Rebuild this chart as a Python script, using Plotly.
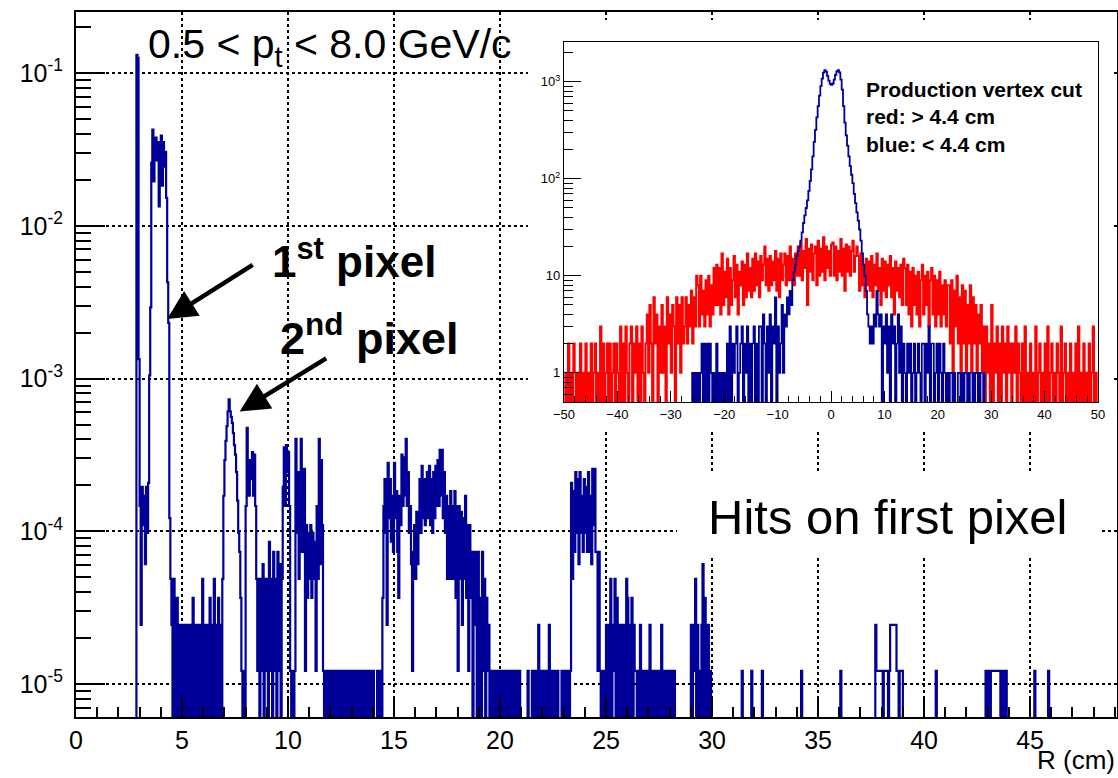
import plotly.graph_objects as go

FONT = "Liberation Sans, Arial, Helvetica, sans-serif"
W, H = 1118, 778

# ---------------- main histogram: hits vs R (cm), bin width 0.05 cm ----------------
R_BIN = 0.05
R_MAX = 49.1
COUNT_UNIT = 1.22e-5          # normalised content of one entry

layer1_start = 2.85
layer1_counts = [10800, 10300, 110, 12, 2, 16, 9, 14, 5, 16, 8, 17, 86, 240, 2130, 3500,
                 1600, 2900, 3100, 2200, 2900, 1100, 2600, 3200, 1500, 2900, 2000, 2500,
                 1250, 350, 190, 10, 4]
gap1_start = 4.50
gap1_counts = [2, 0, 4, 0, 2, 3, 0, 2, 0, 2, 1, 0, 2, 0, 2, 0, 1, 2, 0, 2, 3, 0, 2, 0,
               2, 0, 1, 2, 0, 4, 0, 2, 0, 2, 1, 0, 3, 0, 2, 0, 4, 0, 2, 0, 3, 0, 2, 0]
layer2_start = 6.90
layer2_counts = [4, 14, 24, 32, 40, 50, 60, 50, 46, 42, 36, 30, 26, 20, 13, 8, 6, 3, 1, 0, 1, 0]
peak8_start = 8.00
peak8_counts = [12, 39, 20, 14, 24, 18, 27, 14, 26, 12, 4]
block9_start = 8.55
block9_counts = [1, 4, 0, 4, 1, 5, 0, 4, 1, 4, 0, 7, 1, 4, 0, 6, 1, 4, 0, 6, 1, 5, 0, 4]
peak10_start = 9.75
peak10_counts = [16, 29, 12, 30, 20, 27, 12, 1, 0, 1, 0, 1, 33, 8, 20, 4, 15, 33, 6, 18,
                 21, 1, 9, 3, 8, 4, 9, 3, 8, 4, 7, 1, 12, 4, 33, 5, 24, 9, 1, 0]
sparse12_start = 11.75
sparse12_counts = [1, 0, 1, 1, 0, 1, 0, 1, 1, 0, 1, 0, 0, 1, 0, 1, 1, 0, 1, 0, 1, 0, 0, 1,
                   1, 0, 1, 0, 1, 0, 1, 1, 0, 0, 1, 0, 1, 0, 1, 1, 0, 1, 0, 0, 1, 1, 0, 0,
                   0, 1, 0, 0, 1, 0]
peak16_start = 14.45
peak16_counts = [3, 12, 18, 8, 2, 23, 10, 18, 7, 14,
                 6, 23, 10, 15, 6, 3, 14, 9, 26, 12,
                 25, 14, 33, 12, 20, 8, 12, 5, 1, 6,
                 9, 4, 11, 5, 10, 18, 8, 22, 10, 18,
                 9, 16, 20, 10, 22, 9, 18, 8, 20, 10,
                 22, 12, 24, 12, 28, 14, 28, 10, 20, 8,
                 14, 4, 12, 4, 15, 4, 12, 4, 15, 3,
                 12, 1, 12, 4, 11, 2, 10, 4, 14, 3,
                 9, 1, 9, 3, 6, 0, 6, 2, 6, 0,
                 6, 0, 3, 0, 6, 1, 4, 0, 3, 1,
                 2, 0, 1, 0]
sparse21_start = 19.65
sparse21_counts = [1, 0, 1, 0, 0, 1,
                   1, 0, 1, 0, 1, 0, 1, 0, 1, 1, 0, 1, 0, 1, 0, 1, 0, 1, 0, 1, 0,
                   0, 0, 0, 0, 0, 0, 1, 0, 0, 0, 1, 0,
                   1, 0, 1, 0, 2, 0, 1, 0, 1, 0, 1, 0, 1, 0, 2, 0, 1, 0, 1, 0, 1, 0, 1, 0,
                   0, 0, 1, 0, 1, 0, 1, 0, 1, 0, 1]
peak24_start = 23.35
peak24_counts = [17, 4, 15, 6, 20, 8, 18, 5, 20, 8, 14, 6, 18, 8, 16, 6, 20, 6, 14, 5,
                 21, 9, 21, 6, 6, 1, 6, 1]
tail25_start = 24.75
tail25_counts = [0, 1, 0, 0, 1,
                 2, 0, 2, 0, 4, 0, 2, 1, 4, 0, 3, 0, 2, 0, 2, 1, 0, 2, 0, 4, 3, 0, 2, 0, 3, 0, 2, 1,
                 1, 0, 1, 0, 2, 0, 1, 0, 1, 0, 1, 0, 1, 2, 0, 1, 0, 1, 0, 1, 0, 1, 0, 1, 2, 0,
                 1, 0, 1, 0, 1, 0, 1, 0, 1, 0, 1, 0]
tail29_start = 29.00
tail29_counts = [2, 0, 2, 1, 4, 0, 2, 0, 1, 0, 2, 5, 0, 3, 2, 0, 2, 0, 1, 0]
cluster38_start = 37.70
cluster38_counts = [2, 1, 1, 1, 1, 1, 1, 0, 1, 1, 1, 1, 0, 1, 2, 2, 2, 2, 2, 2, 1, 1, 0, 1, 1, 1, 0]
cluster43_start = 42.90
cluster43_counts = [1, 1, 0, 1, 0, 1, 1, 1, 1, 1, 1, 1, 1, 1, 0, 0, 1, 0, 1, 1, 0]
single_hit_R = [31.42, 31.89, 32.38, 34.22, 36.06, 40.56, 45.20, 45.90]

# ---------------- inset: z of production vertex, bin width 0.25 cm ----------------
Z_BIN = 0.25
Z_MIN, Z_MAX = -50.0, 50.0

red_seg_a = [0, 1, 0, 2, 0, 1, 0, 2, 1, 0, 1, 0, 2, 0, 1, 0, 2, 0, 1, 0, 2, 0, 1, 2, 0, 1, 0]
red_seg_b = [3, 0, 2, 0, 1, 2, 0, 2, 0, 1, 2, 0, 2, 1, 0, 3, 0]
red_seg_c = [2, 0, 3, 1, 0, 2, 3, 0, 2, 1, 3, 0, 2, 0, 3, 1, 0, 2]
red_seg_d = [4, 1, 5, 2, 0, 6, 2, 4, 0, 3, 1, 5, 1, 3, 0, 6, 2, 4, 1, 5]
red_seg_e = [3, 0, 6, 2, 5, 1, 6, 2, 3, 6, 2, 5, 3, 7, 2, 6, 3, 10]
red_seg_f = [8, 3, 10, 4, 7, 3, 9, 4, 10, 3, 8, 4, 12, 5, 13, 5]
red_seg_g = [12, 4, 17, 5, 11, 6, 15, 4, 12, 5, 9, 16, 6, 13, 4, 11, 8, 14, 5, 13, 6, 17, 7, 12, 6]
red_seg_h = [15, 7, 17, 8, 14, 6, 16, 9, 13, 20, 8, 15, 7, 16, 8, 14, 9, 18, 7, 15, 6, 17,
             9, 13, 17, 8, 16, 9, 20, 9, 15, 8, 17, 10]
red_seg_i = [20, 10, 22, 9, 18, 12, 24, 5, 19, 11, 21, 9, 17, 20, 8, 23, 10, 19, 11, 25, 9,
             20, 12, 18, 10, 21]
red_seg_j = [22, 10, 20, 9, 18, 11, 24, 10, 19, 7, 21, 11, 20, 10, 18, 23, 11, 16, 20]
red_seg_k = [16, 7, 17, 8, 13, 6, 15, 8, 14, 7, 16, 6, 13, 8, 17, 7, 12, 5, 15, 7, 14, 6,
             13, 8, 16, 6, 12, 4, 14, 7, 12, 6, 13, 5, 15]
red_seg_l = [12, 5, 13, 4, 11, 3, 12, 5, 10, 4, 11, 3, 9, 13, 4, 10, 5, 11, 3, 9, 12, 4, 10,
             3, 9, 4, 11, 3, 8, 4, 9, 3, 8]
red_seg_m = [8, 2, 9, 1, 7, 3, 10, 2, 6, 1, 8, 2, 7, 1, 5, 2, 8, 1, 6, 2, 5, 1, 4, 2, 5, 1, 3]
red_seg_n = [0, 3, 1, 2, 0, 5, 0, 2, 1, 3, 0, 2, 0, 3, 1, 2, 0, 3, 1, 2, 0, 2, 1, 3, 0, 2, 1,
             0, 2, 0, 3, 0]
red_seg_o = [1, 0, 2, 0, 1, 0, 3, 0, 1, 2, 0, 1, 0, 2, 0, 3, 0, 1, 2, 0, 1, 0, 2, 1, 0, 3, 0,
             1, 2, 0, 1, 0, 2, 0, 1, 0, 2, 0, 3, 0, 1, 0, 2, 0, 1, 0, 2, 0, 1, 3, 0, 1, 0]

blue_start = -26.0
blue_tail_l1 = [1, 0, 1, 0, 1, 0, 1, 2, 0, 2, 0, 2, 0, 2, 1, 0, 1, 0, 2, 0, 1, 0, 1, 0, 1, 0]
blue_tail_l2 = [2, 0, 3, 0, 2, 1, 2, 3, 0, 1, 2, 3, 0, 2, 1, 3, 0, 2, 0, 2, 3, 0, 2, 0, 3]
blue_tail_l3 = [3, 0, 4, 2, 0, 3, 1, 4, 0, 3, 2, 6, 0, 3, 1]
blue_peak = [2, 5, 1, 4, 3, 6, 4, 7, 5,
             9, 11, 13, 16, 18, 20, 23, 28, 35,
             42, 50, 60, 75, 95, 125, 170, 240, 320,
             430, 560, 720, 900, 1080, 1240, 1320, 1270, 1150,
             1030, 950, 930, 960, 1050, 1180, 1280, 1320, 1250,
             1050, 830, 560, 380, 280, 220, 170, 135, 110,
             90, 70, 56, 45, 37, 30, 23, 17, 13,
             10, 7, 4, 3, 2]
blue_tail_r0 = [3, 2, 4, 3, 7, 4, 3]
blue_tail_r1 = [4, 0, 3, 2, 4, 1, 3, 0, 4, 2, 3, 0, 2, 4, 1, 3, 0]
blue_tail_r2 = [2, 1, 0, 2, 1, 2, 0, 1, 2, 0, 1, 2, 1, 0, 2]
blue_tail_r3 = [2, 0, 2, 1, 3, 0, 2, 2, 0, 1, 2, 0, 2, 1, 0, 2, 1, 0]
blue_tail_r4 = [1, 0, 1, 1, 0, 1, 0, 0, 1, 1, 0, 1, 0, 1, 1, 0, 1, 0, 0, 1, 0, 1, 1, 0, 1, 0, 0, 1]

# ---------------- assemble histograms ----------------
n_main = int(round(R_MAX / R_BIN))
main_counts = [0] * n_main
for start, vals in [(layer1_start, layer1_counts), (gap1_start, gap1_counts),
                    (layer2_start, layer2_counts), (peak8_start, peak8_counts),
                    (block9_start, block9_counts), (peak10_start, peak10_counts),
                    (sparse12_start, sparse12_counts), (peak16_start, peak16_counts),
                    (sparse21_start, sparse21_counts), (peak24_start, peak24_counts),
                    (tail25_start, tail25_counts), (tail29_start, tail29_counts),
                    (cluster38_start, cluster38_counts), (cluster43_start, cluster43_counts)]:
    i0 = int(round(start / R_BIN))
    for k, v in enumerate(vals):
        main_counts[i0 + k] = v
for r in single_hit_R:
    main_counts[int(r / R_BIN)] = 1

red_counts = (red_seg_a + red_seg_b + red_seg_c + red_seg_d + red_seg_e + red_seg_f +
              red_seg_g + red_seg_h + red_seg_i + red_seg_j + red_seg_k + red_seg_l +
              red_seg_m + red_seg_n + red_seg_o)
n_z = int(round((Z_MAX - Z_MIN) / Z_BIN))
blue_counts = [0] * n_z
blue_all = (blue_tail_l1 + blue_tail_l2 + blue_tail_l3 + blue_peak + blue_tail_r0 +
            blue_tail_r1 + blue_tail_r2 + blue_tail_r3 + blue_tail_r4)
b0 = int(round((blue_start - Z_MIN) / Z_BIN))
for k, v in enumerate(blue_all):
    blue_counts[b0 + k] = v

# empty bins are drawn down to just below the lower edge of each log axis (as ROOT does)
MAIN_FLOOR = 5.0e-6
INSET_FLOOR = 0.45


def step_xy(x0, width, vals, scale, floor):
    """Histogram outline: each bin contributes its low and high edge at its content."""
    xs, ys = [], []
    for i, v in enumerate(vals):
        y = v * scale if v > 0 else floor
        xs += [x0 + width * i, x0 + width * (i + 1)]
        ys += [y, y]
    return xs, ys


mx, my = step_xy(0.0, R_BIN, main_counts, COUNT_UNIT, MAIN_FLOOR)
rx, ry = step_xy(Z_MIN, Z_BIN, red_counts, 1.0, INSET_FLOOR)
bx, by = step_xy(Z_MIN, Z_BIN, blue_counts, 1.0, INSET_FLOOR)

BLUE = "#000099"
RED = "#ff0000"

fig = go.Figure()
fig.add_trace(go.Scatter(x=mx, y=my, mode="lines",
                         line=dict(color=BLUE, width=2.2, simplify=False),
                         xaxis="x", yaxis="y", hoverinfo="skip"))
fig.add_trace(go.Scatter(x=[None], y=[None], mode="lines", xaxis="x2", yaxis="y2", hoverinfo="skip"))
fig.add_trace(go.Scatter(x=rx, y=ry, mode="lines",
                         line=dict(color=RED, width=2.0, simplify=False),
                         xaxis="x3", yaxis="y3", hoverinfo="skip"))
fig.add_trace(go.Scatter(x=bx, y=by, mode="lines",
                         line=dict(color=BLUE, width=1.8, simplify=False),
                         xaxis="x3", yaxis="y3", hoverinfo="skip"))


def px_x(p):
    return p / W


def px_y(p):
    return 1 - p / H


main_major = [1e-5, 1e-4, 1e-3, 1e-2, 1e-1]
main_major_txt = ["10<sup>-5</sup>", "10<sup>-4</sup>", "10<sup>-3</sup>", "10<sup>-2</sup>",
                  "10<sup>-1</sup>"]
main_minor = [m * 10.0 ** e for e in range(-6, 0) for m in range(2, 10)
              if 6e-6 <= m * 10.0 ** e <= 0.25]
ins_major = [1, 10, 100, 1000]
ins_major_txt = ["1", "10", "10<sup>2</sup>", "10<sup>3</sup>"]
ins_minor = [m * 10.0 ** e for e in range(-1, 4) for m in range(2, 10)
             if 0.5 <= m * 10.0 ** e <= 2500]

fig.update_layout(
    width=W, height=H, margin=dict(l=0, r=0, t=0, b=0, autoexpand=False),
    paper_bgcolor="white", plot_bgcolor="white", showlegend=False,
    font=dict(family=FONT, color="black"),
    xaxis=dict(domain=[px_x(76), px_x(1117)], range=[0, R_MAX], anchor="y", automargin=False,
               showline=True, linewidth=2, linecolor="black", mirror=True,
               ticks="inside", ticklen=20, tickwidth=2, tickcolor="black",
               tick0=0, dtick=5, zeroline=False,
               minor=dict(ticks="inside", ticklen=10, tickwidth=1.5, tickcolor="black",
                          tick0=0, dtick=1, showgrid=False),
               showgrid=True, gridcolor="black", griddash="dot", gridwidth=1.5,
               tickfont=dict(size=25, family=FONT, color="black")),
    yaxis=dict(domain=[px_y(717), px_y(12)], type="log", range=[-5.216, -0.60], anchor="x",
               automargin=False,
               showline=True, linewidth=2, linecolor="black", mirror=True,
               ticks="inside", ticklen=29, tickwidth=2, tickcolor="black",
               tickmode="array", tickvals=main_major, ticktext=main_major_txt,
               minor=dict(ticks="inside", ticklen=15, tickwidth=1.5, tickcolor="black",
                          tickmode="array", tickvals=main_minor, showgrid=False),
               showgrid=True, gridcolor="black", griddash="dot", gridwidth=1.5,
               zeroline=False, ticklabelstandoff=6,
               tickfont=dict(size=25, family=FONT, color="black")),
    xaxis2=dict(domain=[px_x(528), px_x(1112)], range=[0, 1], anchor="y2", visible=False,
                automargin=False),
    yaxis2=dict(domain=[px_y(432), px_y(20)], range=[0, 1], anchor="x2", visible=False,
                automargin=False),
    xaxis3=dict(domain=[px_x(564), px_x(1098)], range=[Z_MIN, Z_MAX], anchor="y3",
                automargin=False,
                showline=True, linewidth=1.2, linecolor="black", mirror=True,
                ticks="inside", ticklen=11, tickwidth=1.2, tickcolor="black",
                tick0=-50, dtick=10, zeroline=False, showgrid=False,
                minor=dict(ticks="inside", ticklen=6, tickwidth=1, tickcolor="black",
                           tick0=-50, dtick=2, showgrid=False),
                tickfont=dict(size=13, family=FONT, color="black")),
    yaxis3=dict(domain=[px_y(402), px_y(42)], type="log", range=[-0.301, 3.41], anchor="x3",
                automargin=False,
                showline=True, linewidth=1.2, linecolor="black", mirror=True,
                ticks="inside", ticklen=17, tickwidth=1.2, tickcolor="black",
                tickmode="array", tickvals=ins_major, ticktext=ins_major_txt,
                minor=dict(ticks="inside", ticklen=9, tickwidth=1, tickcolor="black",
                           tickmode="array", tickvals=ins_minor, showgrid=False),
                showgrid=False, zeroline=False,
                tickfont=dict(size=13, family=FONT, color="black")),
)

# white pad behind the "Hits on first pixel" label
fig.add_shape(type="rect", xref="paper", yref="paper",
              x0=px_x(677), x1=px_x(1100), y0=px_y(557), y1=px_y(473),
              fillcolor="white", line=dict(width=0), layer="above")

ann = [
    dict(text="0.5 &lt; p<sub>t</sub> &lt; 8.0 GeV/c", x=px_x(146), y=px_y(47),
         xanchor="left", yanchor="middle", font=dict(size=41)),
    dict(text="<b>1<sup>st</sup> pixel</b>", x=px_x(270), y=px_y(258),
         xanchor="left", yanchor="middle", font=dict(size=44)),
    dict(text="<b>2<sup>nd</sup> pixel</b>", x=px_x(278), y=px_y(335),
         xanchor="left", yanchor="middle", font=dict(size=45)),
    dict(text="Hits on first pixel", x=px_x(706), y=px_y(517),
         xanchor="left", yanchor="middle", font=dict(size=49)),
    dict(text="R (cm)", x=px_x(1117), y=px_y(760),
         xanchor="right", yanchor="middle", font=dict(size=26)),
    dict(text="<b>Production vertex cut<br>red: &gt; 4.4 cm<br>blue: &lt; 4.4 cm</b>",
         x=px_x(864), y=px_y(76), xanchor="left", yanchor="top", align="left",
         font=dict(size=21)),
]
for a in ann:
    a.setdefault("xref", "paper")
    a.setdefault("yref", "paper")
    a["showarrow"] = False
    a["font"]["family"] = FONT
    a["font"]["color"] = "black"
    fig.add_annotation(**a)

# arrows pointing to the two pixel layers (heads at data positions)
fig.add_annotation(x=4.30, y=-2.61, xref="x", yref="y", text="", showarrow=True,
                   ax=87, ay=-55, axref="pixel", ayref="pixel",
                   arrowhead=2, arrowsize=1.3, arrowwidth=4.5, arrowcolor="black", standoff=0)
fig.add_annotation(x=7.72, y=-3.215, xref="x", yref="y", text="", showarrow=True,
                   ax=88, ay=-54, axref="pixel", ayref="pixel",
                   arrowhead=2, arrowsize=1.3, arrowwidth=4.5, arrowcolor="black", standoff=0)

fig.write_html("out.html", config={"displayModeBar": False})
